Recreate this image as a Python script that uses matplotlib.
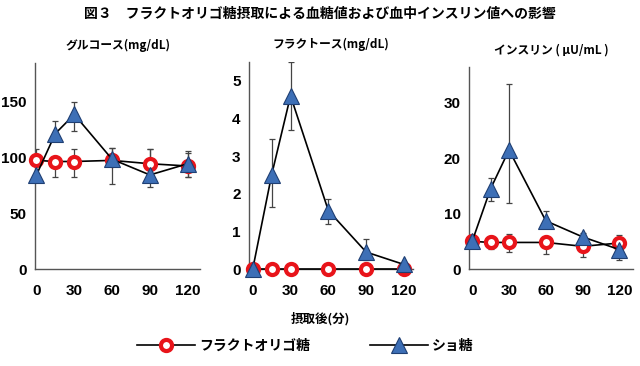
import numpy as np
import matplotlib
matplotlib.use("Agg")
import matplotlib.pyplot as plt
from matplotlib.lines import Line2D

plt.rcParams['font.family'] = ['Noto Sans CJK JP', 'DejaVu Sans']

# time points (minutes)
times = [0, 15, 30, 60, 90, 120]
xticks = [0, 30, 60, 90, 120]

# glucose (mg/dL)
glu_fos = [97, 96, 96, 97, 94, 92]
glu_fos_lo = [97, 82, 82, 97, 94, 82]
glu_fos_hi = [107, 96, 107, 108, 107, 104]
glu_suc = [84, 121, 138, 98, 84, 94]
glu_suc_lo = [84, 121, 123, 76, 73, 82]
glu_suc_hi = [84, 132, 149, 108, 107, 105]

# fructose (mg/dL)
fru_fos = [0, 0, 0, 0, 0, 0]
fru_suc = [0, 2.5, 4.6, 1.55, 0.45, 0.12]
fru_suc_lo = [0, 1.65, 3.7, 1.2, 0.25, 0.12]
fru_suc_hi = [0, 3.45, 5.5, 1.85, 0.8, 0.12]

# insulin (uU/mL)
ins_fos = [5.0, 4.8, 4.8, 4.8, 4.1, 4.7]
ins_fos_lo = [5.0, 3.7, 3.0, 2.7, 2.2, 4.7]
ins_fos_hi = [5.0, 6.0, 6.3, 4.8, 4.1, 6.2]
ins_suc = [5.0, 14.5, 21.5, 8.7, 5.8, 3.5]
ins_suc_lo = [5.0, 12.3, 12.0, 8.7, 5.8, 1.7]
ins_suc_hi = [5.0, 16.5, 33.5, 10.5, 6.5, 3.5]

panels = [
    dict(title="グルコース(mg/dL)", fos=glu_fos, fos_lo=glu_fos_lo, fos_hi=glu_fos_hi,
         suc=glu_suc, suc_lo=glu_suc_lo, suc_hi=glu_suc_hi,
         yticks=[0, 50, 100, 150], ylim=(0, 184), xlim=(-1, 130),
         rect=[0.055, 0.265, 0.258, 0.563]),
    dict(title="フラクトース(mg/dL)", fos=fru_fos, fos_lo=None, fos_hi=None,
         suc=fru_suc, suc_lo=fru_suc_lo, suc_hi=fru_suc_hi,
         yticks=[0, 1, 2, 3, 4, 5], ylim=(0, 5.5), xlim=(-3, 127),
         rect=[0.389, 0.265, 0.256, 0.566]),
    dict(title="インスリン ( μU/mL )", fos=ins_fos, fos_lo=ins_fos_lo, fos_hi=ins_fos_hi,
         suc=ins_suc, suc_lo=ins_suc_lo, suc_hi=ins_suc_hi,
         yticks=[0, 10, 20, 30], ylim=(0, 36.5), xlim=(-2.5, 131),
         rect=[0.733, 0.265, 0.256, 0.552]),
]

red = "#e8141a"
blue = "#3d6fb6"
navy = "#1f3f73"

fig = plt.figure(figsize=(6.4, 3.66), dpi=100)

for p in panels:
    ax = fig.add_axes(p["rect"])
    t = np.array(times)
    # error bars
    if p["fos_lo"] is not None:
        y = np.array(p["fos"])
        err = [y - np.array(p["fos_lo"]), np.array(p["fos_hi"]) - y]
        ax.errorbar(t, y, yerr=err, fmt="none", ecolor="#444444", elinewidth=0.9, capsize=2.5, capthick=0.9, zorder=2)
    y = np.array(p["suc"])
    err = [y - np.array(p["suc_lo"]), np.array(p["suc_hi"]) - y]
    ax.errorbar(t, y, yerr=err, fmt="none", ecolor="#444444", elinewidth=0.9, capsize=2.5, capthick=0.9, zorder=2)

    ax.plot(t, p["fos"], color="black", lw=1.2, marker="o", ms=8, mfc="white", mec=red, mew=3, zorder=4, clip_on=False)
    ax.plot(t, p["suc"], color="black", lw=1.2, marker="^", ms=12, mfc=blue, mec=navy, mew=0.8, zorder=5, clip_on=False)

    ax.set_xlim(*p["xlim"])
    ax.set_ylim(*p["ylim"])
    ax.set_xticks(xticks)
    ax.set_yticks(p["yticks"])
    ax.tick_params(length=0, labelsize=11)
    ax.tick_params(axis="x", pad=11)
    ax.tick_params(axis="y", pad=6)
    for lab in ax.get_xticklabels() + ax.get_yticklabels():
        lab.set_fontweight("bold")
        lab.set_family(["Liberation Sans", "DejaVu Sans"])
    for s in ["top", "right"]:
        ax.spines[s].set_visible(False)
    for s in ["left", "bottom"]:
        ax.spines[s].set_color("#555555")
        ax.spines[s].set_linewidth(1.0)
    ax.set_title(p["title"], fontsize=8.5, fontweight="bold", pad=10)

fig.text(0.5, 0.962, "図３　フラクトオリゴ糖摂取による血糖値および血中インスリン値への影響",
         ha="center", va="center", fontsize=10, fontweight="bold")
fig.text(0.5, 0.13, "摂取後(分)", ha="center", va="center", fontsize=9, fontweight="bold")

handles = [
    Line2D([0], [0], color="black", lw=1.2, marker="o", ms=8, mfc="white", mec=red, mew=3),
    Line2D([0], [0], color="black", lw=1.2, marker="^", ms=12, mfc=blue, mec=navy, mew=0.8),
]
leg = fig.legend(handles, ["フラクトオリゴ糖", "ショ糖"], loc="center", bbox_to_anchor=(0.477, 0.055),
                 ncol=2, frameon=False, handlelength=4.2, handletextpad=0.3, columnspacing=4.3,
                 prop=dict(family=["Noto Sans CJK JP", "DejaVu Sans"], weight="bold", size=10))

fig.savefig("out.png", dpi=100)
